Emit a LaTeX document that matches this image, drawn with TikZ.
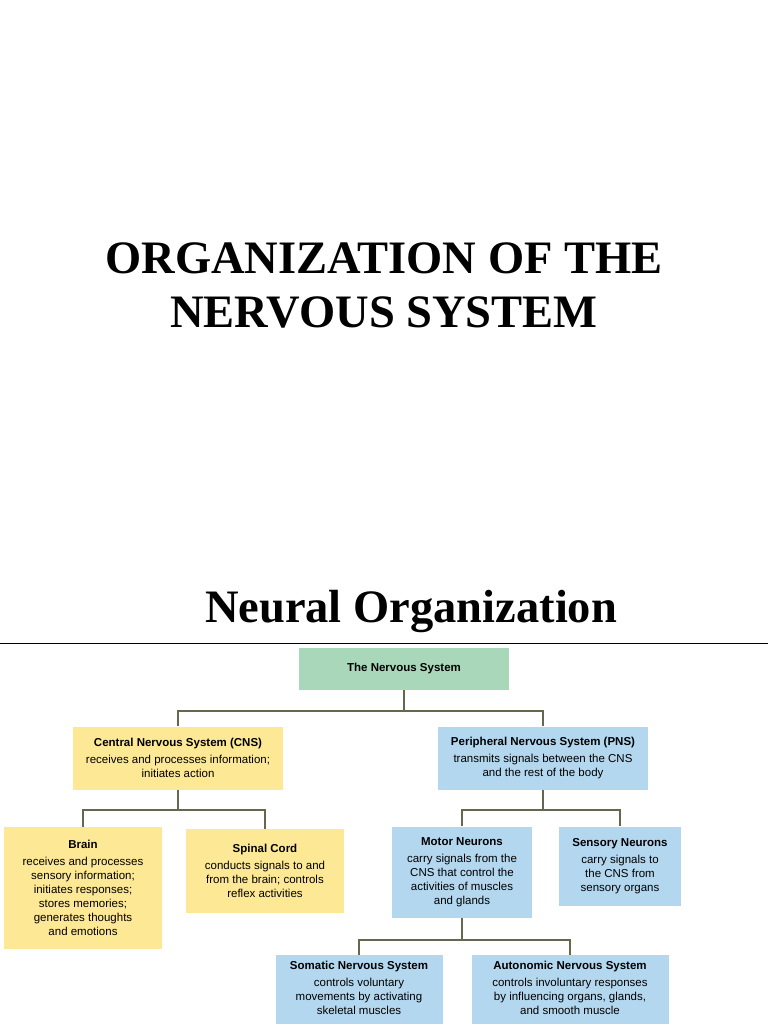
\documentclass[tikz,border=0pt]{standalone}
\usepackage{fontspec}
\setmainfont{Liberation Serif}
\setsansfont{Liberation Sans}
\usetikzlibrary{positioning}
\definecolor{boxgreen}{RGB}{168,216,185}
\definecolor{boxyellow}{RGB}{253,233,149}
\definecolor{boxblue}{RGB}{179,215,239}
\definecolor{linkcol}{RGB}{100,104,78}

\begin{document}
\begin{tikzpicture}[
            x = 1pt, y = -1pt, % pixel-like units
            box/.style = {draw = none, align = center, inner sep = 2pt,
                font = \sffamily\fontsize{11.5}{14}\selectfont},
            cns/.style = {box, fill = boxyellow},
            pns/.style = {box, fill = boxblue},
            link/.style = {draw = linkcol, line width = 1.6pt},
            title/.style = {font = \bfseries\fontsize{46.5}{54}\selectfont, align = center}
        ]

        \useasboundingbox (0,0) rectangle (768,1024);

        % titles
        \node[title] (T1) at (384,285) {ORGANIZATION OF THE\\NERVOUS SYSTEM};
        \node[title] (T2) at (411,611) {Neural Organization};
        \draw[line width = 1pt] (0,643) -- (768,643);

        % top level
        \node[box, fill = boxgreen, minimum width = 210pt, minimum height = 42pt] (NS) at (404,669)
            {\textbf{The Nervous System}};

        % CNS branch
        \node[cns, minimum width = 210pt, minimum height = 63pt] (CNS) at (178,758)
            {\textbf{Central Nervous System (CNS)}\\[3pt]receives and processes information;\\initiates action};
        \node[cns, minimum width = 158pt, minimum height = 122pt] (BR) at (83,888)
            {\textbf{Brain}\\[3pt]receives and processes\\sensory information;\\initiates responses;\\stores memories;\\generates thoughts\\and emotions};
        \node[cns, minimum width = 158pt, minimum height = 84pt] (SC) at (265,871)
            {\textbf{Spinal Cord}\\[3pt]conducts signals to and\\from the brain; controls\\reflex activities};

        % PNS branch
        \node[pns, minimum width = 210pt, minimum height = 63pt] (PNS) at (543,758)
            {\textbf{Peripheral Nervous System (PNS)}\\[3pt]transmits signals between the CNS\\and the rest of the body};
        \node[pns, minimum width = 140pt, minimum height = 91pt] (MN) at (462,872)
            {\textbf{Motor Neurons}\\[3pt]carry signals from the\\CNS that control the\\activities of muscles\\and glands};
        \node[pns, minimum width = 122pt, minimum height = 79pt] (SN) at (620,866)
            {\textbf{Sensory Neurons}\\[3pt]carry signals to\\the CNS from\\sensory organs};
        \node[pns, minimum width = 167pt, minimum height = 80pt, anchor = north] (SO) at (359,955)
            {\textbf{Somatic Nervous System}\\[3pt]controls voluntary\\movements by activating\\skeletal muscles\\~};
        \node[pns, minimum width = 197pt, minimum height = 80pt, anchor = north] (AU) at (570,955)
            {\textbf{Autonomic Nervous System}\\[3pt]controls involuntary responses\\by influencing organs, glands,\\and smooth muscle\\~};

        % connectors
        \coordinate (J1) at (404,711);
        \coordinate (J2) at (178,810);
        \coordinate (J3) at (543,810);
        \coordinate (J4) at (462,940);

        \draw[link] (NS.south) -- (J1);
        \draw[link] (CNS.north) |- (J1) -| (PNS.north);
        \draw[link] (CNS.south) -- (J2);
        \draw[link] (BR.north) |- (J2) -| (SC.north);
        \draw[link] (PNS.south) -- (J3);
        \draw[link] (MN.north) |- (J3) -| (SN.north);
        \draw[link] (MN.south) -- (J4);
        \draw[link] (SO.north) |- (J4) -| (AU.north);

\end{tikzpicture}
\end{document}
